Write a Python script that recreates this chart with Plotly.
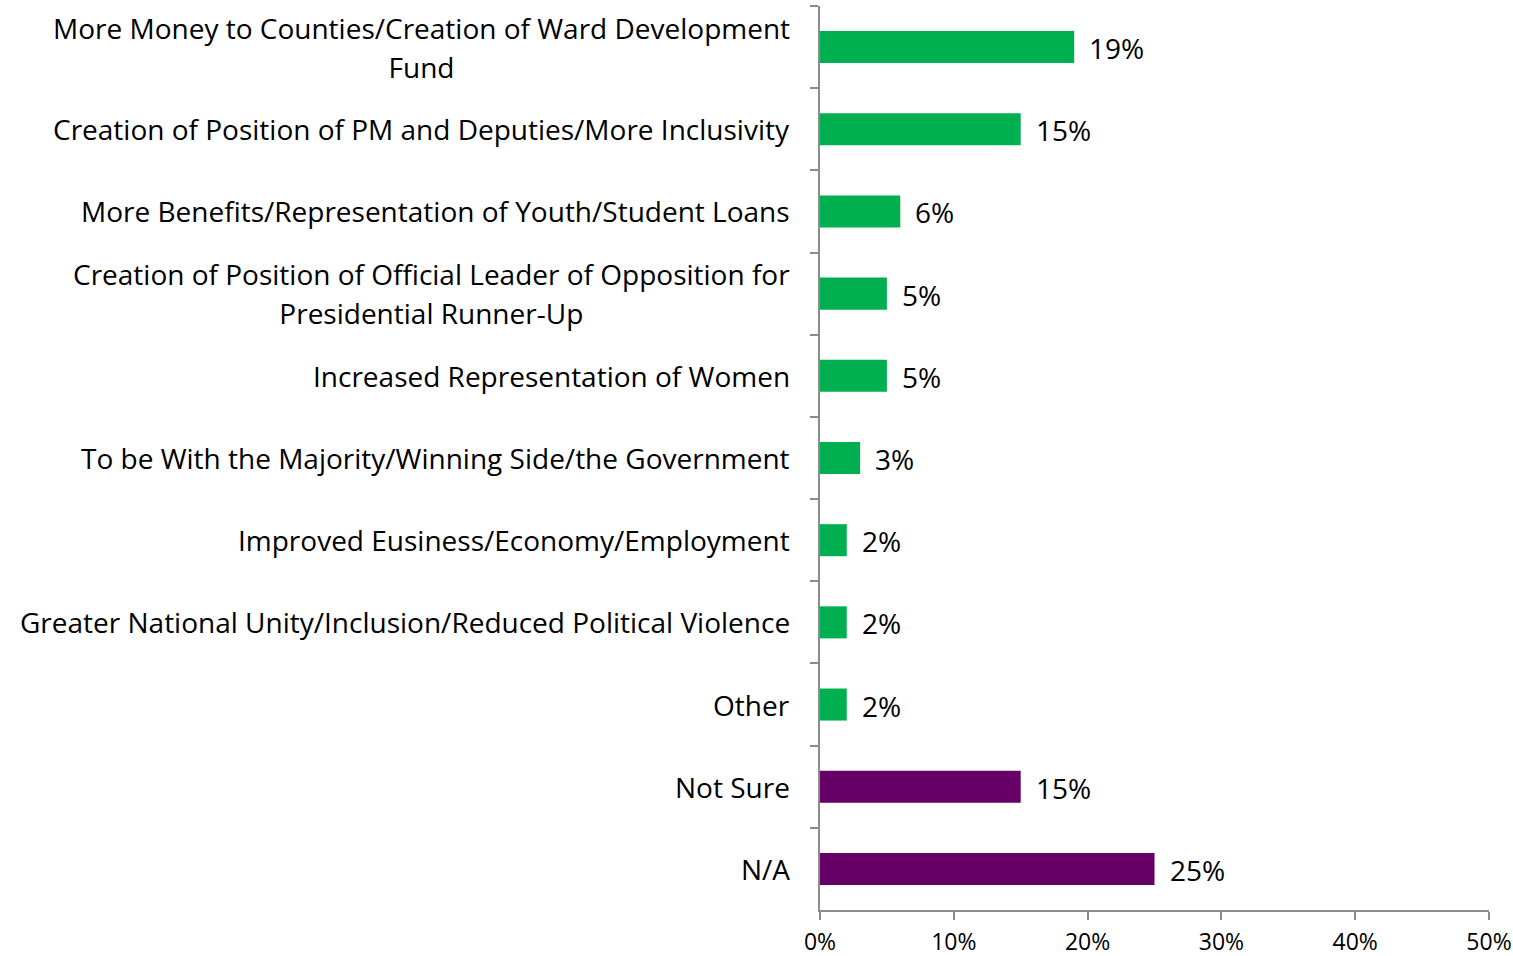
import plotly.graph_objects as go

categories = [
    "More Money to Counties/Creation of Ward Development<br>Fund",
    "Creation of Position of PM and Deputies/More Inclusivity",
    "More Benefits/Representation of Youth/Student Loans",
    "Creation of Position of Official Leader of Opposition for<br>Presidential Runner-Up",
    "Increased Representation of Women",
    "To be With the Majority/Winning Side/the Government",
    "Improved Eusiness/Economy/Employment",
    "Greater National Unity/Inclusion/Reduced Political Violence",
    "Other",
    "Not Sure",
    "N/A",
]
values = [19, 15, 6, 5, 5, 3, 2, 2, 2, 15, 25]
groups = ["benefit"] * 9 + ["none"] * 2

colors = {"benefit": "#00B050", "none": "#660066"}
bar_colors = [colors[g] for g in groups]
x_vals = [v / 100 for v in values]

FONT = "Open Sans"
LABEL_SIZE = 28
AXIS_COLOR = "#8C8C8C"

fig = go.Figure(
    go.Bar(
        x=x_vals,
        y=categories,
        orientation="h",
        marker=dict(color=bar_colors, line=dict(width=0)),
        width=0.39,
        hoverinfo="skip",
    )
)


def sized(text, size):
    # wrap every line so the glyph size stays fixed while line spacing follows the block font
    return "<br>".join(
        f"<span style='font-size:{size}px'>{line}</span>" for line in text.split("<br>")
    )


annotations = []
for cat, v in zip(categories, x_vals):
    # category label, lines centred within the block
    annotations.append(dict(
        x=0, xref="paper", y=cat, yref="y",
        text=sized(cat, LABEL_SIZE), showarrow=False, xanchor="right",
        yanchor="middle", align="center", xshift=-28,
        font=dict(family=FONT, size=30, color="#000000"),
    ))
    # value label
    annotations.append(dict(
        x=v, xref="x", y=cat, yref="y",
        text=f"{round(v * 100)}%", showarrow=False, xanchor="left",
        yanchor="middle", xshift=13, yshift=-1,
        font=dict(family=FONT, size=LABEL_SIZE, color="#000000"),
    ))

fig.update_layout(
    width=1513, height=956,
    margin=dict(l=820, r=24, t=6, b=46),
    paper_bgcolor="white", plot_bgcolor="white",
    showlegend=False,
    annotations=annotations,
    font=dict(family=FONT, color="#000000"),
)
fig.update_xaxes(
    range=[0, 0.5], tickvals=[0, 0.1, 0.2, 0.3, 0.4, 0.5],
    tickformat=".0%", showgrid=False, zeroline=False, automargin=False,
    showline=True, linecolor=AXIS_COLOR, linewidth=2,
    ticks="outside", ticklen=8, tickcolor=AXIS_COLOR, tickwidth=2,
    ticklabelstandoff=2,
    tickfont=dict(family=FONT, size=23, color="#000000"),
)
fig.update_yaxes(
    autorange="reversed", type="category", automargin=False,
    showticklabels=False, showgrid=False, zeroline=False,
    showline=True, linecolor=AXIS_COLOR, linewidth=2,
    ticks="outside", ticklen=8, tickcolor=AXIS_COLOR, tickwidth=2,
    tickson="boundaries",
)

fig.write_html("out.html")
